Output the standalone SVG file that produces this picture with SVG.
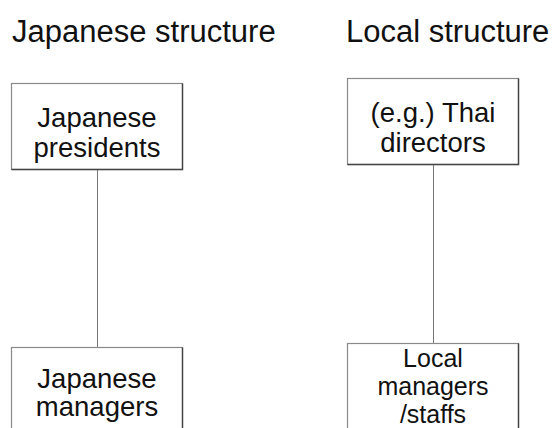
<svg xmlns="http://www.w3.org/2000/svg" width="559" height="428" viewBox="0 0 559 428">
  <style>
    .title { font-family: "Liberation Sans", Arial, sans-serif; font-size: 31px; fill: #111; }
    .label { font-family: "Liberation Sans", Arial, sans-serif; font-size: 27.5px; fill: #111; text-anchor: middle; }
    .tight { font-size: 25px; }
    .box { fill: #fff; stroke: #8a8a8a; stroke-width: 1.2; }
    .shade { fill: none; stroke: #444; stroke-width: 1.4; }
    .link { stroke: #777; stroke-width: 1; fill: none; }
  </style>
  <rect width="559" height="428" fill="#fff"/>

  <!-- column headings -->
  <text class="title" x="12" y="42">Japanese structure</text>
  <text class="title" x="346" y="42">Local structure</text>

  <!-- vertical connectors -->
  <g id="connectors">
    <line class="link" x1="97.5" y1="170" x2="97.5" y2="347"/>
    <line class="link" x1="433.5" y1="165" x2="433.5" y2="343"/>
  </g>

  <g id="jp-presidents">
    <rect class="box" x="11.5" y="83.5" width="171" height="86"/>
    <path class="shade" d="M182.5 83.5 V169.5 H11.5"/>
    <text class="label" x="97" y="127">Japanese</text>
    <text class="label" x="97" y="157">presidents</text>
  </g>

  <g id="jp-managers">
    <rect class="box" x="11.5" y="347.5" width="171" height="90"/>
    <path class="shade" d="M182.5 347.5 V437"/>
    <text class="label" x="97" y="388">Japanese</text>
    <text class="label" x="97" y="416">managers</text>
  </g>

  <g id="local-directors">
    <rect class="box" x="347.5" y="78.5" width="171" height="86"/>
    <path class="shade" d="M518.5 78.5 V164.5 H347.5"/>
    <text class="label" x="433" y="122">(e.g.) Thai</text>
    <text class="label" x="433" y="152">directors</text>
  </g>

  <g id="local-staff">
    <rect class="box" x="347.5" y="343.5" width="171" height="95"/>
    <path class="shade" d="M518.5 343.5 V437"/>
    <text class="label tight" x="433" y="367">Local</text>
    <text class="label tight" x="433" y="395">managers</text>
    <text class="label tight" x="433" y="423">/staffs</text>
  </g>
</svg>
